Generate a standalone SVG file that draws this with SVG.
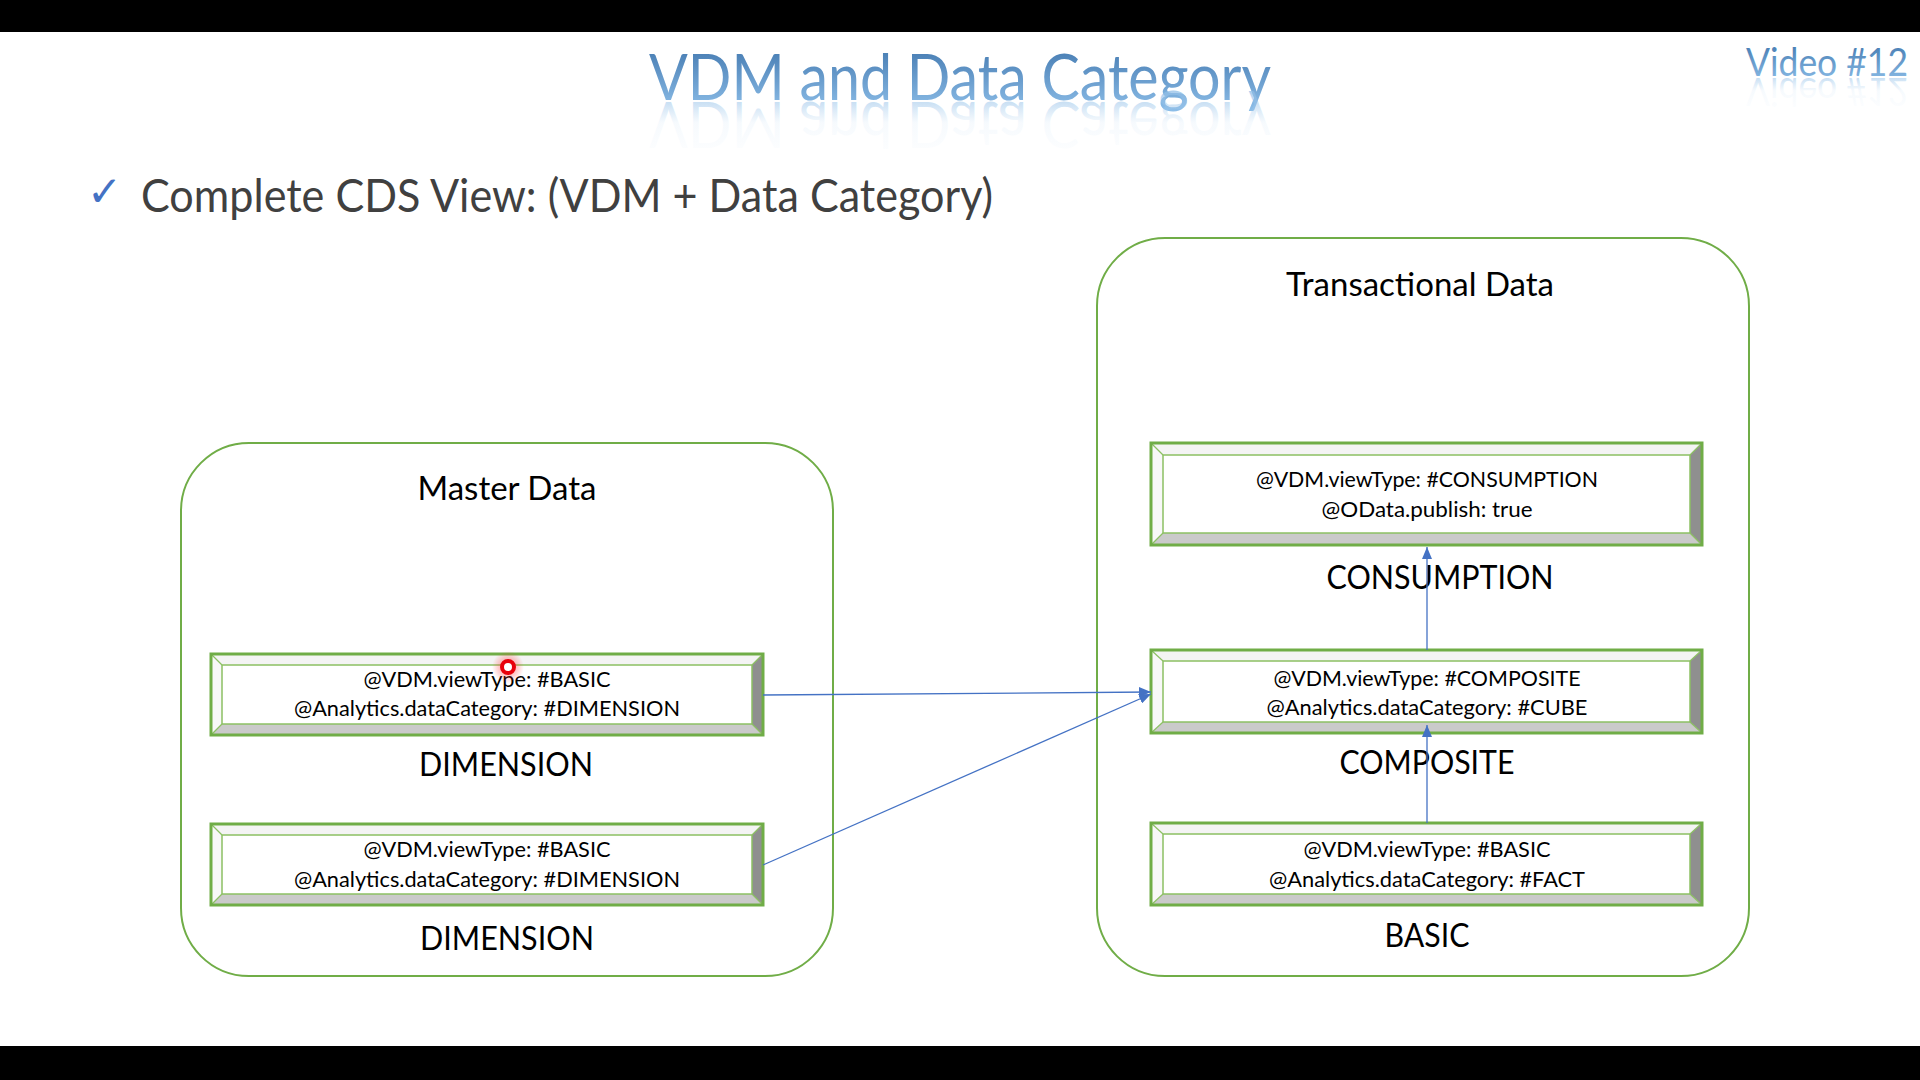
<svg xmlns="http://www.w3.org/2000/svg" xmlns:xlink="http://www.w3.org/1999/xlink" width="1920" height="1080" viewBox="0 0 1920 1080">
<style>
.bar{fill:#000}
.cont{fill:none;stroke:#70ad47;stroke-width:2}
.bt{fill:#f4f4f4}
.bl{fill:#f8f8f8}
.br{fill:#8f8f8f}
.bb{fill:#cacaca}
.face{fill:#fff;stroke:#8cc063;stroke-width:1.5}
.outer{fill:none;stroke:#70ad47;stroke-width:3}
.diag{stroke:#8cc063;stroke-width:1.2}
.nt{font-family:Lato,"Liberation Sans",sans-serif;font-size:22px;fill:#000;text-anchor:middle}
.lbl{font-family:Lato,"Liberation Sans",sans-serif;font-size:32px;fill:#000;text-anchor:middle}
.ct{font-family:Lato,"Liberation Sans",sans-serif;font-size:33px;fill:#000;text-anchor:middle}
.conn{fill:none;stroke:#4472c4;stroke-width:1.3}
</style>
<defs>
<linearGradient id="tg" x1="0" y1="0" x2="0" y2="1">
<stop offset="0" stop-color="#3c72aa"/>
<stop offset="1" stop-color="#8fc0ea"/>
</linearGradient>
<linearGradient id="rg" x1="0" y1="0" x2="0" y2="1">
<stop offset="0" stop-color="#a8cdee" stop-opacity="0"/>
<stop offset="0.55" stop-color="#a8cdee" stop-opacity="0.1"/>
<stop offset="1" stop-color="#8fbde6" stop-opacity="0.8"/>
</linearGradient>
<radialGradient id="halo">
<stop offset="0" stop-color="#ff3030" stop-opacity="0.6"/>
<stop offset="1" stop-color="#ff3030" stop-opacity="0"/>
</radialGradient>
<marker id="ah" markerWidth="12" markerHeight="10" refX="12" refY="5" orient="auto" markerUnits="userSpaceOnUse">
<path d="M0,0 L12,5 L0,10 z" fill="#4472c4"/>
</marker>
<text id="titleText" x="960" y="100" font-family="Lato,'Liberation Sans',sans-serif" font-size="63" text-anchor="middle" textLength="622" lengthAdjust="spacingAndGlyphs">VDM and Data Category</text>
<text id="videoText" x="1746" y="76" font-family="Lato,'Liberation Sans',sans-serif" font-size="39" textLength="162" lengthAdjust="spacingAndGlyphs">Video #12</text>
</defs>
<rect x="0" y="0" width="1920" height="1080" fill="#fff"/>
<rect class="bar" x="0" y="0" width="1920" height="32"/>
<rect class="bar" x="0" y="1046" width="1920" height="34"/>

<g id="title">
<use xlink:href="#titleText" href="#titleText" fill="url(#tg)"/>
<use xlink:href="#titleText" href="#titleText" fill="url(#rg)" transform="translate(0,202) scale(1,-1)"/>
</g>
<g id="video">
<use xlink:href="#videoText" href="#videoText" fill="url(#tg)"/>
<use xlink:href="#videoText" href="#videoText" fill="url(#rg)" transform="translate(0,154) scale(1,-1)"/>
</g>
<g id="bullet">
<text x="87" y="206" font-family="'DejaVu Sans',sans-serif" font-size="42" fill="#4472c4">✓</text>
<text x="141" y="212" font-family="Lato,'Liberation Sans',sans-serif" font-size="47" fill="#404040" textLength="852" lengthAdjust="spacingAndGlyphs">Complete CDS View: (VDM + Data Category)</text>
</g>

<g id="master-data">
<rect class="cont" x="181" y="443" width="652" height="533" rx="68" ry="68"/>
<text class="ct" x="507" y="500" textLength="179" lengthAdjust="spacingAndGlyphs">Master Data</text>
</g>
<g id="transactional-data">
<rect class="cont" x="1097" y="238" width="652" height="738" rx="68" ry="68"/>
<text class="ct" x="1420" y="296" textLength="268" lengthAdjust="spacingAndGlyphs">Transactional Data</text>
</g>

<g id="dim1">
<polygon class="bt" points="211,654 763,654 752,665 222,665"/>
<polygon class="bl" points="211,654 222,665 222,724 211,735"/>
<polygon class="br" points="763,654 763,735 752,724 752,665"/>
<polygon class="bb" points="211,735 222,724 752,724 763,735"/>
<rect class="face" x="222" y="665" width="530" height="59"/>
<line class="diag" x1="211" y1="654" x2="222" y2="665"/><line class="diag" x1="763" y1="654" x2="752" y2="665"/><line class="diag" x1="211" y1="735" x2="222" y2="724"/><line class="diag" x1="763" y1="735" x2="752" y2="724"/>
<rect class="outer" x="211" y="654" width="552" height="81"/>
<text class="nt" x="487" y="687" textLength="247" lengthAdjust="spacingAndGlyphs">@VDM.viewType: #BASIC</text>
<text class="nt" x="487" y="716" textLength="386" lengthAdjust="spacingAndGlyphs">@Analytics.dataCategory: #DIMENSION</text>
<text class="lbl" x="506" y="776" textLength="174" lengthAdjust="spacingAndGlyphs">DIMENSION</text>
</g>

<g id="dim2">
<polygon class="bt" points="211,824 763,824 752,835 222,835"/>
<polygon class="bl" points="211,824 222,835 222,894 211,905"/>
<polygon class="br" points="763,824 763,905 752,894 752,835"/>
<polygon class="bb" points="211,905 222,894 752,894 763,905"/>
<rect class="face" x="222" y="835" width="530" height="59"/>
<line class="diag" x1="211" y1="824" x2="222" y2="835"/><line class="diag" x1="763" y1="824" x2="752" y2="835"/><line class="diag" x1="211" y1="905" x2="222" y2="894"/><line class="diag" x1="763" y1="905" x2="752" y2="894"/>
<rect class="outer" x="211" y="824" width="552" height="81"/>
<text class="nt" x="487" y="857" textLength="247" lengthAdjust="spacingAndGlyphs">@VDM.viewType: #BASIC</text>
<text class="nt" x="487" y="887" textLength="386" lengthAdjust="spacingAndGlyphs">@Analytics.dataCategory: #DIMENSION</text>
<text class="lbl" x="507" y="950" textLength="174" lengthAdjust="spacingAndGlyphs">DIMENSION</text>
</g>

<g id="consumption">
<polygon class="bt" points="1151,443 1702,443 1690,455 1163,455"/>
<polygon class="bl" points="1151,443 1163,455 1163,533 1151,545"/>
<polygon class="br" points="1702,443 1702,545 1690,533 1690,455"/>
<polygon class="bb" points="1151,545 1163,533 1690,533 1702,545"/>
<rect class="face" x="1163" y="455" width="527" height="78"/>
<line class="diag" x1="1151" y1="443" x2="1163" y2="455"/><line class="diag" x1="1702" y1="443" x2="1690" y2="455"/><line class="diag" x1="1151" y1="545" x2="1163" y2="533"/><line class="diag" x1="1702" y1="545" x2="1690" y2="533"/>
<rect class="outer" x="1151" y="443" width="551" height="102"/>
<text class="nt" x="1427" y="487" textLength="342" lengthAdjust="spacingAndGlyphs">@VDM.viewType: #CONSUMPTION</text>
<text class="nt" x="1427" y="517" textLength="211" lengthAdjust="spacingAndGlyphs">@OData.publish: true</text>
<text class="lbl" x="1440" y="589" textLength="227" lengthAdjust="spacingAndGlyphs">CONSUMPTION</text>
</g>

<g id="composite">
<polygon class="bt" points="1151,650 1702,650 1690,661 1163,661"/>
<polygon class="bl" points="1151,650 1163,661 1163,722 1151,733"/>
<polygon class="br" points="1702,650 1702,733 1690,722 1690,661"/>
<polygon class="bb" points="1151,733 1163,722 1690,722 1702,733"/>
<rect class="face" x="1163" y="661" width="527" height="61"/>
<line class="diag" x1="1151" y1="650" x2="1163" y2="661"/><line class="diag" x1="1702" y1="650" x2="1690" y2="661"/><line class="diag" x1="1151" y1="733" x2="1163" y2="722"/><line class="diag" x1="1702" y1="733" x2="1690" y2="722"/>
<rect class="outer" x="1151" y="650" width="551" height="83"/>
<text class="nt" x="1427" y="686" textLength="307" lengthAdjust="spacingAndGlyphs">@VDM.viewType: #COMPOSITE</text>
<text class="nt" x="1427" y="715" textLength="321" lengthAdjust="spacingAndGlyphs">@Analytics.dataCategory: #CUBE</text>
<text class="lbl" x="1427" y="774" textLength="175" lengthAdjust="spacingAndGlyphs">COMPOSITE</text>
</g>

<g id="basic">
<polygon class="bt" points="1151,823 1702,823 1690,834 1163,834"/>
<polygon class="bl" points="1151,823 1163,834 1163,894 1151,905"/>
<polygon class="br" points="1702,823 1702,905 1690,894 1690,834"/>
<polygon class="bb" points="1151,905 1163,894 1690,894 1702,905"/>
<rect class="face" x="1163" y="834" width="527" height="60"/>
<line class="diag" x1="1151" y1="823" x2="1163" y2="834"/><line class="diag" x1="1702" y1="823" x2="1690" y2="834"/><line class="diag" x1="1151" y1="905" x2="1163" y2="894"/><line class="diag" x1="1702" y1="905" x2="1690" y2="894"/>
<rect class="outer" x="1151" y="823" width="551" height="82"/>
<text class="nt" x="1427" y="857" textLength="247" lengthAdjust="spacingAndGlyphs">@VDM.viewType: #BASIC</text>
<text class="nt" x="1427" y="887" textLength="316" lengthAdjust="spacingAndGlyphs">@Analytics.dataCategory: #FACT</text>
<text class="lbl" x="1427" y="947" textLength="85" lengthAdjust="spacingAndGlyphs">BASIC</text>
</g>

<g id="connectors">
<line class="conn" x1="763" y1="695" x2="1151" y2="692" marker-end="url(#ah)"/>
<line class="conn" x1="763" y1="865" x2="1151" y2="694" marker-end="url(#ah)"/>
<line class="conn" x1="1427" y1="823" x2="1427" y2="725" marker-end="url(#ah)"/>
<line class="conn" x1="1427" y1="650" x2="1427" y2="547" marker-end="url(#ah)"/>
</g>

<g id="cursor">
<circle cx="508" cy="667" r="16" fill="url(#halo)"/>
<circle cx="508" cy="667" r="6" fill="#fff" stroke="#e8000b" stroke-width="4"/>
</g>
</svg>
